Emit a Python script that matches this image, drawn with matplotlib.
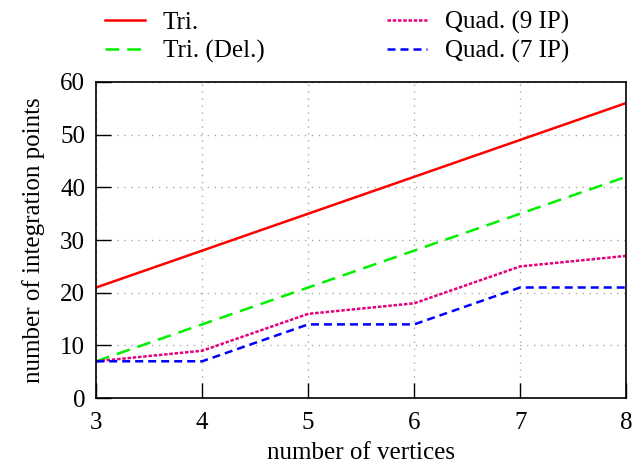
import matplotlib
matplotlib.use("Agg")
import matplotlib.pyplot as plt

# --------------------------
# Data
# --------------------------
vertices = [3, 4, 5, 6, 7, 8]
tri = [21, 28, 35, 42, 49, 56]
tri_del = [7, 14, 21, 28, 35, 42]
quad_9ip = [7, 9, 16, 18, 25, 27]
quad_7ip = [7, 7, 14, 14, 21, 21]

plt.rcParams['font.family'] = ['Liberation Serif', 'DejaVu Serif']
plt.rcParams['font.size'] = 18

fig = plt.figure(figsize=(6.37, 4.63), dpi=100)
ax = fig.add_axes([0.151, 0.140, 0.832, 0.683])

ax.plot(vertices, tri, color='#ff0000', lw=1.8, label='Tri.')
ax.plot(vertices, tri_del, color='#00f000', lw=1.8, dashes=(5.5, 3.2), label='Tri. (Del.)')
ax.plot(vertices, quad_9ip, color='#e5007d', lw=1.8, dashes=(1.4, 0.7), label='Quad. (9 IP)')
ax.plot(vertices, quad_7ip, color='#0000ff', lw=1.8, dashes=(3.2, 2.0), label='Quad. (7 IP)')

ax.set_xlim(3, 8)
ax.set_ylim(0, 60)
ax.set_xticks(vertices)
ax.set_yticks(range(0, 61, 10))
ax.tick_params(direction='in', length=11, width=1, top=False, right=False)
ax.tick_params(axis='x', pad=10)
ax.tick_params(axis='y', pad=8)
ax.grid(True, color='#aaaaaa', linestyle=(0, (1, 4)), lw=1)
for s in ax.spines.values():
    s.set_linewidth(1.2)

ax.set_xlabel('number of vertices', labelpad=6)
ax.set_ylabel('number of integration points', labelpad=11)

fig.legend(loc='upper left', bbox_to_anchor=(0.13, 1.025), ncol=2, frameon=False,
           handlelength=1.6, handletextpad=0.7, columnspacing=4.9, labelspacing=0.25)

fig.savefig('out.png', dpi=100)
